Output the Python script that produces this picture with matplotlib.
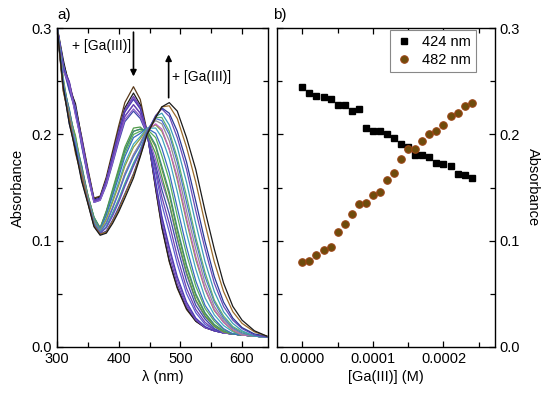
import numpy as np
import matplotlib
matplotlib.use('Agg')
import matplotlib.pyplot as plt
from matplotlib.ticker import MultipleLocator, FormatStrFormatter

# --- DATA: panel a, UV-vis titration spectra ---
wavelength = [300, 310, 320, 330, 340, 350, 360, 370, 380, 390, 400, 410, 424, 435,
              446, 460, 470, 482, 495, 510, 525, 540, 555, 570, 585, 600, 620, 640]

spectra = [
    [0.302, 0.268, 0.248, 0.226, 0.198, 0.168, 0.140, 0.142, 0.160, 0.184, 0.208, 0.230, 0.245, 0.233, 0.203, 0.148, 0.112, 0.080, 0.055, 0.035, 0.024, 0.018, 0.015, 0.013, 0.012, 0.011, 0.010, 0.009],
    [0.302, 0.271, 0.244, 0.229, 0.196, 0.166, 0.139, 0.141, 0.158, 0.181, 0.204, 0.225, 0.239, 0.228, 0.202, 0.149, 0.113, 0.081, 0.056, 0.036, 0.024, 0.018, 0.015, 0.013, 0.012, 0.011, 0.010, 0.009],
    [0.302, 0.262, 0.250, 0.222, 0.197, 0.165, 0.138, 0.140, 0.157, 0.179, 0.202, 0.223, 0.236, 0.226, 0.202, 0.151, 0.117, 0.086, 0.059, 0.038, 0.025, 0.018, 0.015, 0.013, 0.012, 0.011, 0.010, 0.009],
    [0.302, 0.266, 0.243, 0.226, 0.193, 0.165, 0.138, 0.140, 0.157, 0.179, 0.202, 0.222, 0.235, 0.225, 0.202, 0.154, 0.121, 0.091, 0.063, 0.040, 0.026, 0.018, 0.015, 0.013, 0.012, 0.011, 0.010, 0.009],
    [0.302, 0.264, 0.249, 0.220, 0.195, 0.164, 0.138, 0.140, 0.156, 0.178, 0.200, 0.221, 0.233, 0.224, 0.201, 0.155, 0.123, 0.094, 0.066, 0.042, 0.027, 0.019, 0.015, 0.013, 0.012, 0.011, 0.010, 0.009],
    [0.302, 0.267, 0.242, 0.224, 0.190, 0.162, 0.137, 0.139, 0.154, 0.175, 0.197, 0.217, 0.228, 0.220, 0.201, 0.163, 0.134, 0.108, 0.078, 0.050, 0.032, 0.021, 0.016, 0.013, 0.012, 0.011, 0.010, 0.009],
    [0.302, 0.261, 0.248, 0.219, 0.193, 0.162, 0.137, 0.139, 0.154, 0.175, 0.197, 0.217, 0.228, 0.220, 0.201, 0.167, 0.141, 0.116, 0.085, 0.055, 0.035, 0.023, 0.016, 0.013, 0.012, 0.011, 0.010, 0.009],
    [0.302, 0.263, 0.241, 0.222, 0.189, 0.160, 0.136, 0.138, 0.152, 0.172, 0.193, 0.212, 0.222, 0.215, 0.200, 0.171, 0.148, 0.125, 0.094, 0.062, 0.039, 0.026, 0.017, 0.013, 0.012, 0.011, 0.010, 0.009],
    [0.302, 0.260, 0.247, 0.218, 0.192, 0.161, 0.136, 0.138, 0.153, 0.173, 0.195, 0.214, 0.224, 0.217, 0.201, 0.176, 0.155, 0.134, 0.101, 0.068, 0.043, 0.028, 0.019, 0.013, 0.012, 0.011, 0.010, 0.009],
    [0.302, 0.250, 0.222, 0.196, 0.170, 0.143, 0.122, 0.112, 0.128, 0.148, 0.168, 0.188, 0.206, 0.207, 0.201, 0.182, 0.160, 0.135, 0.103, 0.070, 0.044, 0.029, 0.019, 0.014, 0.012, 0.011, 0.010, 0.009],
    [0.302, 0.254, 0.218, 0.199, 0.167, 0.143, 0.121, 0.112, 0.127, 0.146, 0.166, 0.185, 0.203, 0.205, 0.203, 0.188, 0.167, 0.143, 0.109, 0.075, 0.048, 0.031, 0.020, 0.014, 0.012, 0.011, 0.010, 0.009],
    [0.302, 0.246, 0.224, 0.192, 0.171, 0.142, 0.122, 0.111, 0.127, 0.146, 0.165, 0.185, 0.203, 0.205, 0.204, 0.190, 0.170, 0.146, 0.112, 0.077, 0.050, 0.032, 0.021, 0.015, 0.012, 0.011, 0.010, 0.009],
    [0.302, 0.252, 0.219, 0.197, 0.166, 0.142, 0.121, 0.111, 0.125, 0.144, 0.163, 0.182, 0.200, 0.203, 0.205, 0.197, 0.180, 0.157, 0.123, 0.087, 0.057, 0.036, 0.024, 0.016, 0.012, 0.011, 0.010, 0.009],
    [0.302, 0.247, 0.223, 0.191, 0.169, 0.141, 0.120, 0.111, 0.124, 0.142, 0.160, 0.179, 0.197, 0.201, 0.206, 0.201, 0.187, 0.164, 0.131, 0.094, 0.062, 0.039, 0.026, 0.017, 0.012, 0.011, 0.010, 0.009],
    [0.302, 0.250, 0.216, 0.194, 0.164, 0.140, 0.119, 0.110, 0.121, 0.138, 0.155, 0.173, 0.191, 0.198, 0.206, 0.206, 0.197, 0.177, 0.146, 0.107, 0.073, 0.046, 0.030, 0.020, 0.014, 0.011, 0.010, 0.009],
    [0.302, 0.245, 0.220, 0.189, 0.167, 0.140, 0.119, 0.109, 0.120, 0.136, 0.152, 0.170, 0.188, 0.196, 0.205, 0.209, 0.203, 0.186, 0.157, 0.118, 0.082, 0.054, 0.034, 0.023, 0.015, 0.011, 0.010, 0.009],
    [0.302, 0.249, 0.214, 0.192, 0.162, 0.139, 0.117, 0.108, 0.117, 0.131, 0.146, 0.163, 0.181, 0.192, 0.204, 0.210, 0.205, 0.186, 0.160, 0.121, 0.085, 0.055, 0.035, 0.023, 0.016, 0.011, 0.010, 0.009],
    [0.302, 0.244, 0.219, 0.187, 0.165, 0.139, 0.117, 0.108, 0.117, 0.131, 0.146, 0.163, 0.181, 0.192, 0.205, 0.213, 0.210, 0.194, 0.167, 0.128, 0.092, 0.060, 0.038, 0.025, 0.017, 0.012, 0.010, 0.009],
    [0.302, 0.248, 0.213, 0.191, 0.161, 0.138, 0.117, 0.108, 0.116, 0.130, 0.145, 0.161, 0.179, 0.190, 0.204, 0.215, 0.213, 0.200, 0.174, 0.136, 0.099, 0.066, 0.042, 0.027, 0.018, 0.013, 0.010, 0.009],
    [0.302, 0.243, 0.217, 0.185, 0.164, 0.137, 0.116, 0.107, 0.113, 0.126, 0.139, 0.154, 0.173, 0.186, 0.203, 0.216, 0.216, 0.203, 0.178, 0.142, 0.103, 0.070, 0.044, 0.029, 0.019, 0.014, 0.010, 0.009],
    [0.302, 0.247, 0.212, 0.189, 0.159, 0.137, 0.116, 0.107, 0.113, 0.125, 0.138, 0.153, 0.172, 0.185, 0.202, 0.217, 0.220, 0.209, 0.188, 0.155, 0.116, 0.080, 0.052, 0.033, 0.022, 0.015, 0.010, 0.009],
    [0.302, 0.242, 0.216, 0.184, 0.163, 0.137, 0.115, 0.107, 0.112, 0.123, 0.136, 0.151, 0.170, 0.184, 0.202, 0.218, 0.224, 0.217, 0.197, 0.167, 0.128, 0.092, 0.060, 0.038, 0.025, 0.017, 0.011, 0.009],
    [0.302, 0.246, 0.210, 0.187, 0.157, 0.136, 0.114, 0.106, 0.109, 0.119, 0.131, 0.144, 0.163, 0.181, 0.201, 0.217, 0.225, 0.220, 0.203, 0.174, 0.137, 0.099, 0.066, 0.042, 0.027, 0.018, 0.012, 0.010],
    [0.302, 0.241, 0.215, 0.182, 0.161, 0.136, 0.114, 0.106, 0.108, 0.118, 0.129, 0.143, 0.162, 0.180, 0.200, 0.216, 0.226, 0.227, 0.215, 0.188, 0.155, 0.116, 0.080, 0.052, 0.033, 0.022, 0.014, 0.010],
    [0.302, 0.245, 0.210, 0.185, 0.156, 0.135, 0.113, 0.105, 0.107, 0.116, 0.127, 0.140, 0.159, 0.179, 0.200, 0.216, 0.226, 0.230, 0.222, 0.197, 0.167, 0.128, 0.092, 0.060, 0.038, 0.025, 0.015, 0.010],
]

line_colors = ['#5a3a1a', '#1a1a1a', '#6040a8', '#7b4fc0', '#4a3ab0', '#5b5fd0',
               '#7040b0', '#3a48a8', '#8a5cc8', '#4f9a48', '#7a9a3a', '#3a8a7a',
               '#5ab05a', '#3a6ac0', '#40a8c0', '#8aa040', '#c060c0', '#909090',
               '#4a70d0', '#60b070', '#3a9ab8', '#6a4ab8', '#2a3a9a', '#9a6a2a',
               '#1a1a1a']

# --- DATA: panel b, absorbance vs [Ga(III)] ---
conc_uM = [0, 10, 20, 30, 40, 50, 60, 70, 80, 90, 100, 110, 120,
           130, 140, 150, 160, 170, 180, 190, 200, 210, 220, 230, 240]
abs_424 = [0.245, 0.239, 0.236, 0.235, 0.233, 0.228, 0.228, 0.222, 0.224,
           0.206, 0.203, 0.203, 0.200, 0.197, 0.191, 0.188, 0.181, 0.181,
           0.179, 0.173, 0.172, 0.170, 0.163, 0.162, 0.159]
abs_482 = [0.080, 0.081, 0.086, 0.091, 0.094, 0.108, 0.116, 0.125, 0.134,
           0.135, 0.143, 0.146, 0.157, 0.164, 0.177, 0.186, 0.186, 0.194,
           0.200, 0.203, 0.209, 0.217, 0.220, 0.227, 0.230]
conc_M = np.array(conc_uM) * 1e-6

plt.rcParams['font.family'] = ['Liberation Sans', 'DejaVu Sans']
plt.rcParams['font.size'] = 10.5
plt.rcParams['axes.linewidth'] = 1.0

fig = plt.figure(figsize=(5.5, 3.95), dpi=100)
ax1 = fig.add_axes([0.1036, 0.1223, 0.3836, 0.806])
ax2 = fig.add_axes([0.5036, 0.1223, 0.3964, 0.806])

# --- panel a ---
for row, col in zip(spectra, line_colors):
    ax1.plot(wavelength, row, color=col, lw=0.9)

ax1.set_xlim(300, 642)
ax1.set_ylim(0, 0.3)
ax1.xaxis.set_major_locator(MultipleLocator(100))
ax1.xaxis.set_minor_locator(MultipleLocator(50))
ax1.yaxis.set_major_locator(MultipleLocator(0.1))
ax1.yaxis.set_minor_locator(MultipleLocator(0.05))
ax1.yaxis.set_major_formatter(FormatStrFormatter('%.1f'))
ax1.tick_params(which='both', direction='in', top=True, right=True, width=0.9)
ax1.tick_params(which='major', length=4)
ax1.tick_params(which='minor', length=3.5)
ax1.set_xlabel('λ (nm)', labelpad=3)
ax1.set_ylabel('Absorbance', labelpad=5)

ax1.annotate('', xy=(424, 0.252), xytext=(424, 0.299),
             arrowprops=dict(arrowstyle='-|>', color='k', lw=1.2, mutation_scale=9))
ax1.annotate('', xy=(481, 0.278), xytext=(481, 0.232),
             arrowprops=dict(arrowstyle='-|>', color='k', lw=1.2, mutation_scale=9))
ax1.text(324, 0.283, '+ [Ga(III)]', ha='left', va='center', fontsize=10)
ax1.text(487, 0.254, '+ [Ga(III)]', ha='left', va='center', fontsize=10)

# --- panel b ---
ax2.plot(conc_M, abs_424, 's', color='black', ms=5, label='424 nm')
ax2.plot(conc_M, abs_482, 'o', mfc='#6e4c0c', mec='#9a4414', mew=0.8, ms=5.4,
         label='482 nm')

ax2.set_xlim(-0.000036, 0.000273)
ax2.set_ylim(0, 0.3)
ax2.xaxis.set_major_locator(MultipleLocator(0.0001))
ax2.xaxis.set_minor_locator(MultipleLocator(0.00005))
ax2.xaxis.set_major_formatter(FormatStrFormatter('%.4f'))
ax2.yaxis.set_major_locator(MultipleLocator(0.1))
ax2.yaxis.set_minor_locator(MultipleLocator(0.05))
ax2.yaxis.set_major_formatter(FormatStrFormatter('%.1f'))
ax2.yaxis.set_label_position('right')
ax2.tick_params(which='both', direction='in', top=True, right=True, left=True,
                labelleft=False, labelright=True, width=0.9)
ax2.tick_params(which='major', length=4)
ax2.tick_params(which='minor', length=3.5)
ax2.set_xlabel('[Ga(III)] (M)', labelpad=3)
ax2.set_ylabel('Absorbance', rotation=270, labelpad=14)

leg = ax2.legend(loc='upper right', bbox_to_anchor=(0.918, 1.0), fancybox=False,
                 framealpha=1, edgecolor='#888888', fontsize=10.5, handletextpad=0.6,
                 borderpad=0.35, labelspacing=0.3, handlelength=1.2,
                 borderaxespad=0.1)
leg.get_frame().set_linewidth(0.8)

fig.text(0.104, 0.962, 'a)', ha='left', va='center', fontsize=11)
fig.text(0.496, 0.962, 'b)', ha='left', va='center', fontsize=11)

fig.savefig('out.png', dpi=100)
